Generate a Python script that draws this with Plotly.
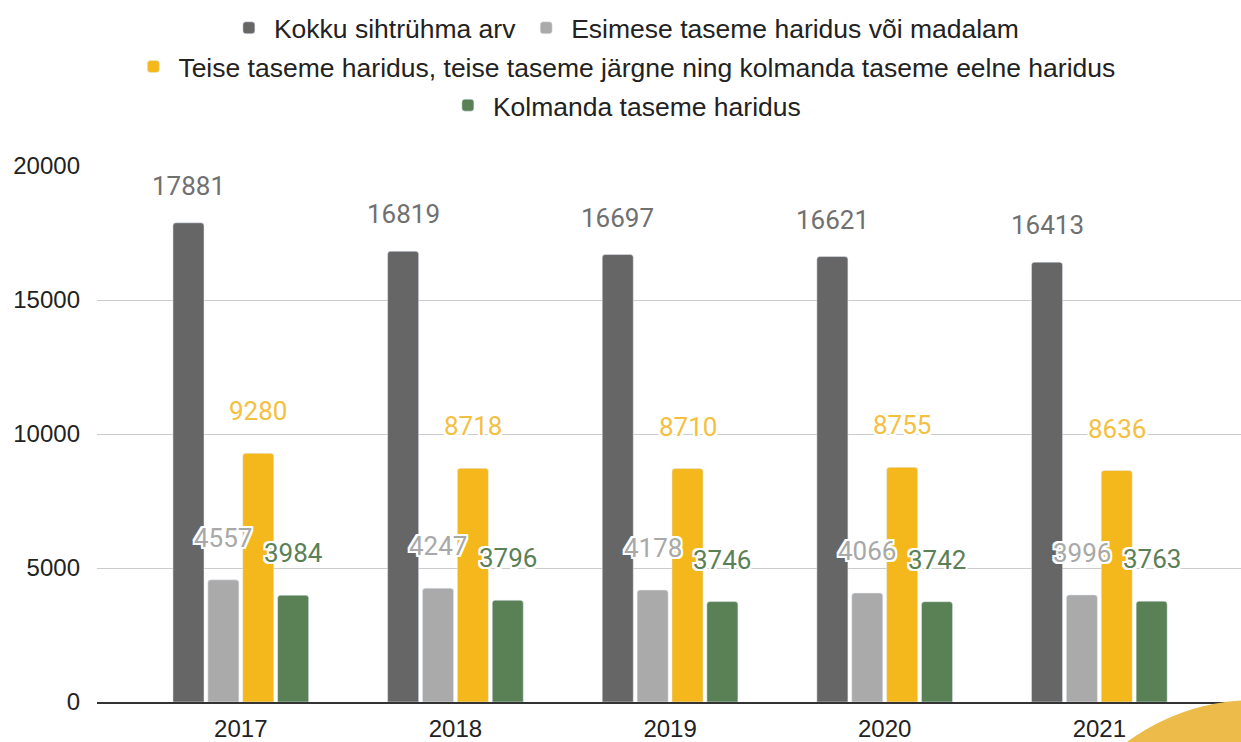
import plotly.graph_objects as go

years = ["2017", "2018", "2019", "2020", "2021"]
series_names = [
    "Kokku sihtrühma arv",
    "Esimese taseme haridus või madalam",
    "Teise taseme haridus, teise taseme järgne ning kolmanda taseme eelne haridus",
    "Kolmanda taseme haridus",
]
total = [17881, 16819, 16697, 16621, 16413]
esimese = [4557, 4247, 4178, 4066, 3996]
teise = [9280, 8718, 8710, 8755, 8636]
kolmanda = [3984, 3796, 3746, 3742, 3763]
y_ticks = [0, 5000, 10000, 15000, 20000]
y_tick_labels = ["0", "5000", "10000", "15000", "20000"]

values = [total, esimese, teise, kolmanda]
bar_colors = ["#666666", "#aaaaaa", "#f4b71c", "#5a8056"]
label_colors = ["#707070", "#a8a8a8", "#f4c040", "#5a8056"]
legend_ids = ["legend", "legend", "legend2", "legend3"]

bargap = 0.35
bargroupgap = 0.11
xs = list(range(len(years)))

fig = go.Figure()
for name, vals, col, lg in zip(series_names, values, bar_colors, legend_ids):
    fig.add_trace(go.Bar(
        x=xs, y=vals, name=name, marker=dict(color=col, cornerradius=3),
        legend=lg, hoverinfo="y",
    ))

slot = (1 - bargap) / len(values)
halo = ("-2px -2px 0 #fff, 2px -2px 0 #fff, -2px 2px 0 #fff, 2px 2px 0 #fff, "
        "0 -2px 0 #fff, 0 2px 0 #fff, -2px 0 0 #fff, 2px 0 0 #fff")
annotations = []
for si, (vals, lc) in enumerate(zip(values, label_colors)):
    off = (si - (len(values) - 1) / 2) * slot
    for xi, v in zip(xs, vals):
        annotations.append(dict(
            x=xi + off, y=v, xref="x", yref="y", text=str(v), showarrow=False,
            yanchor="middle", xanchor="center", yshift=37 if si == 0 else 42,
            font=dict(family="Roboto", size=26, color=lc, shadow=halo if si else "none"),
        ))

legend_common = dict(
    orientation="h", xanchor="center", x=0.461, yanchor="middle",
    font=dict(family="Liberation Sans", size=26.5, color="#222222"),
    bgcolor="rgba(0,0,0,0)", itemclick=False, itemdoubleclick=False,
    tracegroupgap=0, itemwidth=40,
)

fig.update_layout(
    width=1241, height=742,
    paper_bgcolor="white", plot_bgcolor="white",
    margin=dict(l=97, r=0, t=166, b=36),
    barmode="group", bargap=bargap, bargroupgap=bargroupgap,
    showlegend=True,
    legend=dict(**legend_common, y=1.2574),
    legend2=dict(**legend_common, y=1.185),
    legend3=dict(**legend_common, y=1.113),
    xaxis=dict(
        tickmode="array", tickvals=xs, ticktext=years, range=[-0.67, 4.66],
        showgrid=False, zeroline=False, showline=True, linecolor="#333333", linewidth=2,
        ticks="", ticklabelstandoff=4,
        tickfont=dict(family="Liberation Sans", size=24, color="#222222"),
    ),
    yaxis=dict(
        range=[0, 20000], tickmode="array", tickvals=y_ticks, ticktext=y_tick_labels,
        showgrid=True, gridcolor="#cccccc", gridwidth=1,
        zeroline=False, showline=False, ticks="", ticklabelstandoff=16,
        tickfont=dict(family="Liberation Sans", size=24, color="#222222"),
    ),
    annotations=annotations,
    shapes=[dict(
        type="circle", xref="paper", yref="paper",
        x0=(1040 - 97) / 1144, x1=(1470 - 97) / 1144,
        y0=(706 - 1134) / 540, y1=2 / 540,
        fillcolor="#ecbb4a", line=dict(width=0), layer="above",
    )],
)

fig.write_html(
    "out.html",
    config={"displayModeBar": False},
    post_script="document.body.style.margin='0';document.body.style.overflow='hidden';",
)
